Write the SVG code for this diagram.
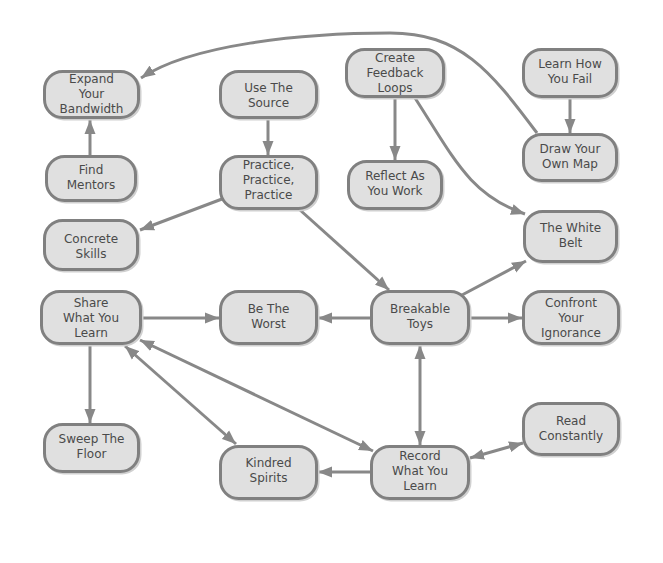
<svg xmlns="http://www.w3.org/2000/svg" width="663" height="563" viewBox="0 0 663 563">
<defs>
<style>
.node rect.box{fill:#e0e0e0;stroke:#808080;stroke-width:3}
.node rect.sh{fill:none;stroke:#d0d0d0;stroke-width:3}
.node text{font-family:"DejaVu Sans",Verdana,sans-serif;font-size:12px;fill:#4a4a4a;text-anchor:middle}
.edge{fill:none;stroke:#888;stroke-width:3}
.e{marker-end:url(#ah)}
.b{marker-start:url(#ah);marker-end:url(#ah)}
</style>
<marker id="ah" markerUnits="userSpaceOnUse" markerWidth="15" markerHeight="12" refX="14" refY="5.5" orient="auto-start-reverse" viewBox="0 0 15 11">
<path d="M0,0 L14,5.5 L0,11 z" fill="#888"/>
</marker>
</defs>
<rect width="663" height="563" fill="#fff"/>
<g id="connectors">
<path class="edge e" d="M90,155 L90,120"/>
<path class="edge e" d="M268,119 L268,155"/>
<path class="edge e" d="M222,199 L140,230"/>
<path class="edge e" d="M300,210 L389,290"/>
<path class="edge e" d="M395,98 L395,160"/>
<path class="edge e" d="M415,98 C455,160 470,195 525,214"/>
<path class="edge e" d="M570,98 L570,133"/>
<path class="edge e" d="M462,295 L526,261"/>
<path class="edge e" d="M370,318 L318,318"/>
<path class="edge e" d="M470,318 L522,318"/>
<path class="edge e" d="M142,318 L219,318"/>
<path class="edge e" d="M90,345 L90,423"/>
<path class="edge b" d="M125,346 L236,444"/>
<path class="edge b" d="M140,340 L373,451"/>
<path class="edge e" d="M370,472 L318,472"/>
<path class="edge b" d="M420,345 L420,445"/>
<path class="edge b" d="M470,458 L523,443"/>
<path class="edge e" d="M537,133 C490,70 460,33 390,33 C300,33 190,45 141,78"/>
</g>
<g id="expand" class="node"><rect class="sh" x="46" y="73" width="94" height="46" rx="18"/><rect class="box" x="44.5" y="71.5" width="94" height="46" rx="18"/><text x="91.5" y="83">Expand</text><text x="91.5" y="98">Your</text><text x="91.5" y="113">Bandwidth</text></g>
<g id="find" class="node"><rect class="sh" x="48" y="158" width="89" height="44" rx="18"/><rect class="box" x="46.5" y="156.5" width="89" height="44" rx="18"/><text x="91" y="174">Find</text><text x="91" y="189">Mentors</text></g>
<g id="concrete" class="node"><rect class="sh" x="46" y="222" width="93" height="49" rx="18"/><rect class="box" x="44.5" y="220.5" width="93" height="49" rx="18"/><text x="91" y="243">Concrete</text><text x="91" y="258">Skills</text></g>
<g id="usesource" class="node"><rect class="sh" x="222" y="73" width="96" height="46" rx="18"/><rect class="box" x="220.5" y="71.5" width="96" height="46" rx="18"/><text x="268.5" y="92">Use The</text><text x="268.5" y="107">Source</text></g>
<g id="practice" class="node"><rect class="sh" x="222" y="158" width="96" height="52" rx="18"/><rect class="box" x="220.5" y="156.5" width="96" height="52" rx="18"/><text x="268.5" y="169">Practice,</text><text x="268.5" y="184">Practice,</text><text x="268.5" y="199">Practice</text></g>
<g id="create" class="node"><rect class="sh" x="348" y="51" width="97" height="47" rx="18"/><rect class="box" x="346.5" y="49.5" width="97" height="47" rx="18"/><text x="395" y="62">Create</text><text x="395" y="77">Feedback</text><text x="395" y="92">Loops</text></g>
<g id="learnfail" class="node"><rect class="sh" x="525" y="51" width="93" height="47" rx="18"/><rect class="box" x="523.5" y="49.5" width="93" height="47" rx="18"/><text x="570" y="68">Learn How</text><text x="570" y="83">You Fail</text></g>
<g id="drawmap" class="node"><rect class="sh" x="525" y="136" width="93" height="46" rx="18"/><rect class="box" x="523.5" y="134.5" width="93" height="46" rx="18"/><text x="570" y="153">Draw Your</text><text x="570" y="168">Own Map</text></g>
<g id="reflect" class="node"><rect class="sh" x="350" y="163" width="93" height="47" rx="18"/><rect class="box" x="348.5" y="161.5" width="93" height="47" rx="18"/><text x="395" y="180">Reflect As</text><text x="395" y="195">You Work</text></g>
<g id="whitebelt" class="node"><rect class="sh" x="526" y="213" width="92" height="50" rx="18"/><rect class="box" x="524.5" y="211.5" width="92" height="50" rx="18"/><text x="570.5" y="232">The White</text><text x="570.5" y="247">Belt</text></g>
<g id="share" class="node"><rect class="sh" x="43" y="293" width="99" height="52" rx="18"/><rect class="box" x="41.5" y="291.5" width="99" height="52" rx="18"/><text x="91" y="307">Share</text><text x="91" y="322">What You</text><text x="91" y="337">Learn</text></g>
<g id="worst" class="node"><rect class="sh" x="222" y="293" width="96" height="52" rx="18"/><rect class="box" x="220.5" y="291.5" width="96" height="52" rx="18"/><text x="268.5" y="313">Be The</text><text x="268.5" y="328">Worst</text></g>
<g id="breakable" class="node"><rect class="sh" x="373" y="293" width="97" height="52" rx="18"/><rect class="box" x="371.5" y="291.5" width="97" height="52" rx="18"/><text x="420" y="313">Breakable</text><text x="420" y="328">Toys</text></g>
<g id="confront" class="node"><rect class="sh" x="525" y="293" width="95" height="52" rx="18"/><rect class="box" x="523.5" y="291.5" width="95" height="52" rx="18"/><text x="571" y="307">Confront</text><text x="571" y="322">Your</text><text x="571" y="337">Ignorance</text></g>
<g id="sweep" class="node"><rect class="sh" x="46" y="426" width="94" height="47" rx="18"/><rect class="box" x="44.5" y="424.5" width="94" height="47" rx="18"/><text x="91.5" y="443">Sweep The</text><text x="91.5" y="458">Floor</text></g>
<g id="kindred" class="node"><rect class="sh" x="222" y="448" width="96" height="52" rx="18"/><rect class="box" x="220.5" y="446.5" width="96" height="52" rx="18"/><text x="268.5" y="467">Kindred</text><text x="268.5" y="482">Spirits</text></g>
<g id="read" class="node"><rect class="sh" x="525" y="405" width="95" height="51" rx="18"/><rect class="box" x="523.5" y="403.5" width="95" height="51" rx="18"/><text x="571" y="425">Read</text><text x="571" y="440">Constantly</text></g>
<g id="record" class="node"><rect class="sh" x="373" y="448" width="97" height="52" rx="18"/><rect class="box" x="371.5" y="446.5" width="97" height="52" rx="18"/><text x="420" y="460">Record</text><text x="420" y="475">What You</text><text x="420" y="490">Learn</text></g>
</svg>
